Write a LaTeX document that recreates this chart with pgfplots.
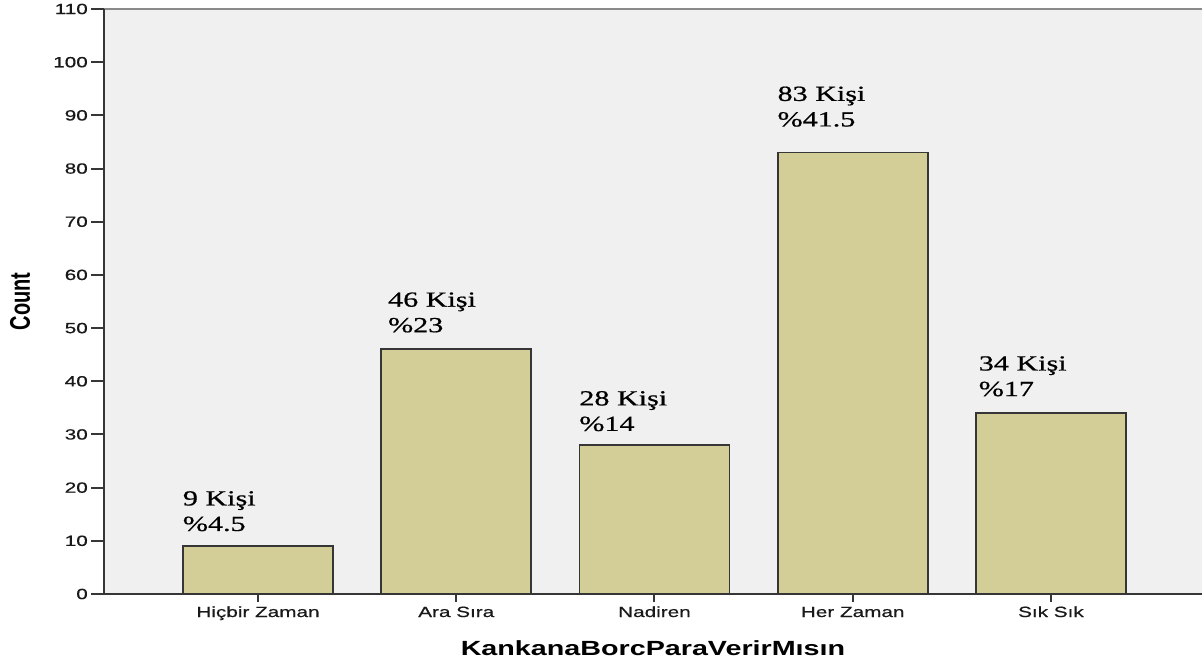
\documentclass[border=0pt]{standalone}
\usepackage{pgfplots}
\pgfplotsset{compat=1.18}
\usepackage{pgfplotstable}
\usepackage{fontspec}
\setmainfont{Liberation Sans}
\newfontfamily\wsans[FakeStretch=1.40, FakeBold=0.6]{Liberation Sans}
\newfontfamily\wsansb[FakeStretch=1.40]{Liberation Sans Bold}
\newfontfamily\wserif[FakeStretch=1.40, FakeBold=0.7]{Liberation Serif}
\definecolor{bg}{HTML}{F0F0F0}
\definecolor{barc}{HTML}{D3CE97}
\definecolor{edge}{HTML}{363636}
\definecolor{topline}{HTML}{8A8A8A}

\pgfplotstableread{
x n pct dx dy
0 9 4.5 -1 14
1 46 23 6 16
2 28 14 -1 13
3 83 41.5 -1 25
4 34 17 2 16
}\data

\begin{document}
\begin{tikzpicture}
\useasboundingbox (0,0) rectangle (1204pt,662pt);
\begin{axis}[
  at={(104pt,68pt)}, anchor=south west,
  scale only axis, width=1098pt, height=585pt,
  xmin=-0.777, xmax=4.762, ymin=0, ymax=110,
  clip=false,
  axis line style={draw=none},
  axis background/.style={fill=bg},
  xtick={0,1,2,3,4},
  xticklabels={Hiçbir Zaman, Ara Sıra, Nadiren, Her Zaman, Sık Sık},
  ytick={0,10,...,110},
  xtick pos=bottom, ytick pos=left,
  tick align=outside,
  major tick length=13pt,
  xtick style={/pgfplots/major tick length=8pt},
  tick style={draw=edge, line width=2pt},
  /pgf/number format/assume math mode=true,
  yticklabel style={font=\fontsize{14.8}{17}\selectfont\wsans, text=black!90, anchor=east, inner sep=0pt, xshift=-3pt},
  xticklabel style={font=\fontsize{14.8}{17}\selectfont\wsans, text=black!90, anchor=base, inner sep=0pt, yshift=-10pt},
  xlabel={KankanaBorcParaVerirMısın},
  xlabel style={font=\fontsize{20.5}{24}\selectfont\wsansb, at={(axis description cs:0.5,-0.1043)}, anchor=base, inner sep=0pt},
  ylabel={\scalebox{1}[1.42]{Count}},
  ylabel style={font=\fontsize{20}{24}\selectfont\bfseries, at={(axis description cs:-0.0765,0.5)}, anchor=center, inner sep=0pt},
]
\addplot[ybar, bar width=150pt, fill=barc, draw=edge, line width=1.8pt,
  point meta=explicit symbolic,
  visualization depends on={\thisrow{n}\as\cnt},
  visualization depends on={\thisrow{dx}\as\dx},
  visualization depends on={\thisrow{dy}\as\dy},
  nodes near coords={\pgfmathprintnumber[int detect]{\cnt}\ Kişi\\\%\pgfplotspointmeta},
  every node near coord/.append style={font=\fontsize{21.5}{25.5}\selectfont\wserif, text=black, align=left, inner sep=0pt, anchor=south west, xshift={\dx*1pt-75pt}, yshift={\dy*1pt}},
] table[x=x, y=n, meta=pct]{\data};
\draw[topline, line width=2pt] (rel axis cs:0,1) -- (rel axis cs:1,1);
\draw[edge, line width=2pt] (rel axis cs:0,1) -- (rel axis cs:0,0) -- (rel axis cs:1,0);
\end{axis}
\end{tikzpicture}
\end{document}
